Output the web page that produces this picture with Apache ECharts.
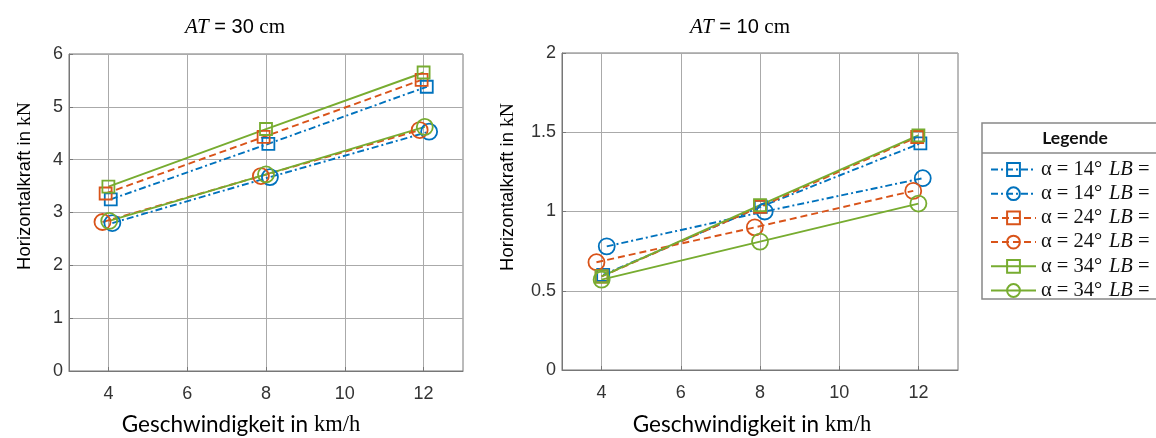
<!DOCTYPE html>
<html>
<head>
<meta charset="utf-8">
<script src="https://cdn.jsdelivr.net/npm/echarts@6/dist/echarts.min.js"></script>
<style>
  html, body { margin: 0; padding: 0; background: #fff; }
  #chart { width: 1156px; height: 438px; }
</style>
</head>
<body>
<div id="chart"></div>
<script>
// Tick values on both speed axes
const xTicks = [4, 6, 8, 10, 12];

// Legend entries: inclination angle and LB setting
const seriesAngles = ['14°', '14°', '24°', '24°', '34°', '34°'];
const seriesLB = ['45 cm', '15 cm', '45 cm', '15 cm', '45 cm', '15 cm'];

// AT = 30 cm: measured speed (km/h) and horizontal force (kN), one row per series
const at30Speed = [
  [4.06, 8.06, 12.08],
  [4.10, 8.10, 12.14],
  [3.93, 7.94, 11.95],
  [3.85, 7.87, 11.90],
  [4.00, 8.00, 12.00],
  [4.02, 8.00, 12.03]
];
const at30Force = [
  [3.25, 4.30, 5.38],
  [2.80, 3.67, 4.53],
  [3.36, 4.43, 5.51],
  [2.82, 3.69, 4.56],
  [3.49, 4.58, 5.65],
  [2.84, 3.72, 4.62]
];

// AT = 10 cm
const at10Speed = [
  [4.04, 8.02, 12.05],
  [4.13, 8.12, 12.11],
  [4.00, 8.00, 11.97],
  [3.87, 7.87, 11.87],
  [4.00, 8.00, 12.00],
  [4.00, 8.00, 12.00]
];
const at10Force = [
  [0.60, 1.03, 1.43],
  [0.78, 1.00, 1.21],
  [0.59, 1.03, 1.47],
  [0.68, 0.90, 1.13],
  [0.59, 1.04, 1.48],
  [0.57, 0.81, 1.05]
];

// Line look per series
const colors = ['#0072BD', '#0072BD', '#D95319', '#D95319', '#77AC30', '#77AC30'];
const dashes = [[7, 3, 2, 3], [7, 3, 2, 3], [7, 4], [7, 4], 'solid', 'solid'];
const markers = ['rect', 'circle', 'rect', 'circle', 'rect', 'circle'];

const names = seriesAngles.map((a, i) => 'α = ' + a + '|' + seriesLB[i]);

const SANS = '"Liberation Sans", Arial, sans-serif';
const SERIF = '"Liberation Serif", "Times New Roman", serif';
const LABEL_SANS = 'Lato, "Open Sans", sans-serif';

function buildSeries(speed, force, gridIdx) {
  return speed.map((xs, i) => ({
    name: names[i],
    type: 'line',
    xAxisIndex: gridIdx,
    yAxisIndex: gridIdx,
    data: xs.map((x, k) => [x, force[i][k]]),
    symbol: markers[i],
    symbolSize: markers[i] === 'rect' ? 12 : 16,
    showSymbol: true,
    lineStyle: { color: colors[i], width: 1.9, type: dashes[i] },
    itemStyle: { color: 'rgba(255,255,255,0)', borderColor: colors[i], borderWidth: 1.8 },
    emphasis: { disabled: true },
    clip: false
  }));
}

function xAxisFor(gridIndex) {
  return {
    type: 'value', gridIndex, min: 3, max: 13,
    axisLine: { show: true, onZero: false, lineStyle: { color: '#777', width: 1 } },
    axisTick: { show: true, inside: true, length: 4, customValues: xTicks, lineStyle: { color: '#777' } },
    axisLabel: { customValues: xTicks, color: '#333', fontFamily: SANS, fontSize: 18, margin: 14 },
    splitLine: { show: true, lineStyle: { color: '#aaaaaa', width: 1 } }
  };
}

function yAxisFor(gridIndex, max, interval) {
  return {
    type: 'value', gridIndex, min: 0, max, interval,
    axisLine: { show: true, onZero: false, lineStyle: { color: '#777', width: 1 } },
    axisTick: { show: true, inside: true, length: 4, lineStyle: { color: '#777' } },
    axisLabel: { color: '#333', fontFamily: SANS, fontSize: 18, margin: 6 },
    splitLine: { show: true, lineStyle: { color: '#aaaaaa', width: 1 } }
  };
}

const richTitle = {
  it: { fontFamily: SERIF, fontStyle: 'italic', fontSize: 21, color: '#111' },
  sn: { fontFamily: SANS, fontSize: 20, color: '#111' },
  sf: { fontFamily: SERIF, fontSize: 21, color: '#111' }
};
const richY = {
  s: { fontFamily: SANS, fontSize: 18.5, color: '#222' },
  f: { fontFamily: SERIF, fontSize: 19.5, color: '#222' }
};
const richX = {
  s: { fontFamily: LABEL_SANS, fontSize: 22.5, color: '#222' },
  f: { fontFamily: SERIF, fontSize: 22.5, color: '#222' }
};

function textEl(x, y, text, rich, rotation) {
  return {
    type: 'text', x, y, rotation: rotation || 0, z: 10,
    style: { text, rich, align: 'center', verticalAlign: 'middle' }
  };
}

const chart = echarts.init(document.getElementById('chart'), null, { renderer: 'canvas' });

chart.setOption({
  animation: false,
  backgroundColor: '#fff',
  grid: [
    { left: 69, top: 54, width: 394, height: 317, show: true, borderColor: '#777', borderWidth: 1, backgroundColor: 'transparent' },
    { left: 562, top: 53, width: 396, height: 317, show: true, borderColor: '#777', borderWidth: 1, backgroundColor: 'transparent' }
  ],
  xAxis: [xAxisFor(0), xAxisFor(1)],
  yAxis: [yAxisFor(0, 6, 1), yAxisFor(1, 2, 0.5)],
  legend: {
    orient: 'vertical',
    left: 985, top: 154,
    itemWidth: 45, itemHeight: 16, itemGap: 3.2,
    selectedMode: false,
    data: names,
    formatter: (n) => {
      const [a, lb] = n.split('|');
      return '{g|' + a + '}  {i|LB}{g| =  ' + lb + '}';
    },
    textStyle: {
      padding: [0, 0, 0, 0],
      rich: {
        g: { fontFamily: SERIF, fontSize: 20.5, color: '#111', lineHeight: 20 },
        i: { fontFamily: SERIF, fontStyle: 'italic', fontSize: 20.5, color: '#111', lineHeight: 20 }
      }
    }
  },
  graphic: [
    { type: 'rect', shape: { x: 982, y: 123, width: 260, height: 176 }, style: { fill: '#fff', stroke: '#888', lineWidth: 1.5 }, z: -1 },
    { type: 'line', shape: { x1: 982, y1: 153, x2: 1242, y2: 153 }, style: { stroke: '#888', lineWidth: 1.5 }, z: -1 },
    { type: 'text', x: 1075, y: 138, z: 10, style: { text: 'Legende', fontFamily: LABEL_SANS, fontWeight: 'bold', fontSize: 17.5, fill: '#111', align: 'center', verticalAlign: 'middle' } },
    textEl(235, 27, '{it|AT}{sn| = 30 }{sf|cm}', richTitle),
    textEl(740, 27, '{it|AT}{sn| = 10 }{sf|cm}', richTitle),
    textEl(25, 186, '{s|Horizontalkraft in }{f|kN}', richY, Math.PI / 2),
    textEl(508, 187, '{s|Horizontalkraft in }{f|kN}', richY, Math.PI / 2),
    textEl(241, 425, '{s|Geschwindigkeit in }{f|km/h}', richX),
    textEl(752, 425, '{s|Geschwindigkeit in }{f|km/h}', richX)
  ],
  series: [
    ...buildSeries(at30Speed, at30Force, 0),
    ...buildSeries(at10Speed, at10Force, 1)
  ]
});
</script>
</body>
</html>
